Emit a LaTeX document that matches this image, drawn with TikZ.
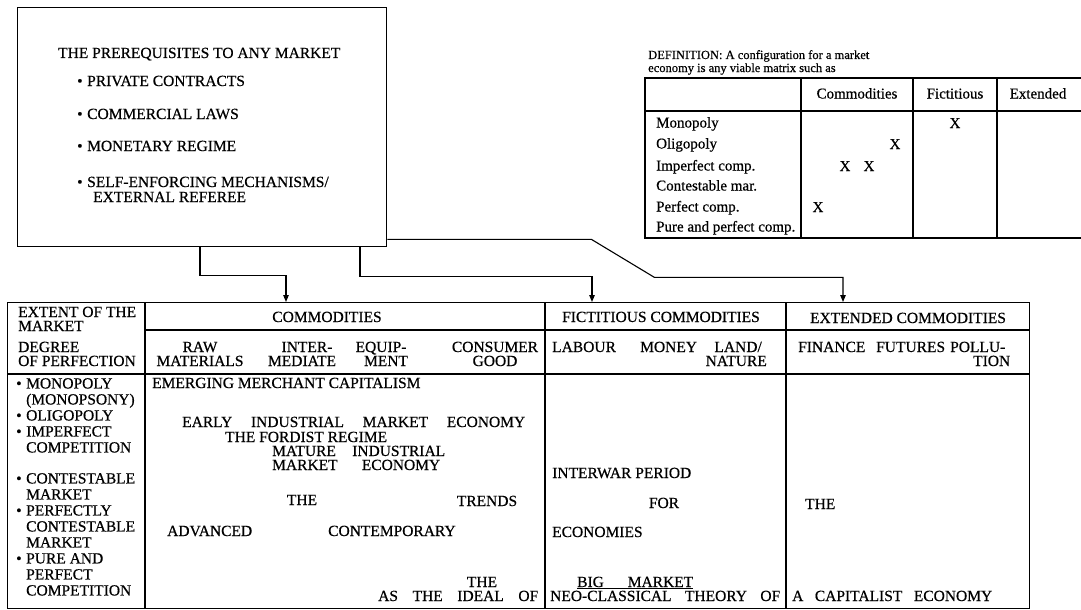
\documentclass[tikz,border=0pt]{standalone}
\usepackage{fontspec}
\setmainfont{Liberation Serif}[FakeBold=0.5]
\usetikzlibrary{arrows.meta}

\begin{document}
\begin{tikzpicture}[x=1pt,y=-1pt,
  frame/.style={draw,line width=1.3pt,inner sep=0pt},
  rule/.style={line width=1.2pt},
  wire/.style={line width=1.1pt},
  feed/.style={wire,-{Triangle[length=7pt,width=5.5pt]}},
  t/.style={inner sep=0pt,font=\fontsize{15.5}{16}\selectfont},
  tb/.style={t,anchor=base},
  tbw/.style={t,anchor=base west},
  tbe/.style={t,anchor=base east},
  sm/.style={inner sep=0pt,font=\fontsize{15}{16}\selectfont},
  def/.style={inner sep=0pt,anchor=base west,font=\fontsize{12.5}{13}\selectfont}
]
\fill[white] (0,0) rectangle (1081,610);
\useasboundingbox (0,0) rectangle (1081,610);

% ---------- prerequisites box ----------
\node[frame,anchor=north west,minimum width=369pt,minimum height=239pt] (prereq) at (17,7) {};
\node[tbw] (ptitle) at (58,58) {THE PREREQUISITES TO ANY MARKET};
\node[tbw] (p1) at (77,86)  {\makebox[10pt][l]{•}PRIVATE CONTRACTS};
\node[tbw] (p2) at (77,119) {\makebox[10pt][l]{•}COMMERCIAL LAWS};
\node[tbw] (p3) at (77,151) {\makebox[10pt][l]{•}MONETARY REGIME};
\node[tbw] (p4) at (77,187) {\makebox[10pt][l]{•}SELF-ENFORCING MECHANISMS/};
\node[tbw] (p4b) at (93,202) {EXTERNAL REFEREE};

% ---------- definition and configuration matrix ----------
\node[def] (def1) at (648,59) {DEFINITION: A configuration for a market};
\node[def] (def2) at (648,72) {economy is any viable matrix such as};

\draw[rule] (1081,78) -- (645,78) -- (645,238) -- (1081,238);
\draw[rule] (645,111) -- (1081,111);
\draw[rule] (801,78) -- (801,238);
\draw[rule] (913,78) -- (913,238);
\draw[rule] (997,78) -- (997,238);

\node[sm,anchor=base] (mc) at (857,98.5) {Commodities};
\node[sm,anchor=base] (mf) at (955,98.5) {Fictitious};
\node[sm,anchor=base] (me) at (1038,98.5) {Extended};

\node[sm,anchor=base west] (r1) at (656,127.5) {Monopoly};
\node[sm,anchor=base west] (r2) at (656,148.5) {Oligopoly};
\node[sm,anchor=base west] (r3) at (656,170.5) {Imperfect comp.};
\node[sm,anchor=base west] (r4) at (656,190.5) {Contestable mar.};
\node[sm,anchor=base west] (r5) at (656,211.5) {Perfect comp.};
\node[sm,anchor=base west] (r6) at (656,231.5) {Pure and perfect comp.};

\node[sm,anchor=base] (x1) at (955,128) {X};
\node[sm,anchor=base] (x2) at (895,149) {X};
\node[sm,anchor=base] (x3) at (845,171) {X};
\node[sm,anchor=base] (x4) at (869,171) {X};
\node[sm,anchor=base] (x5) at (818,212) {X};

% ---------- main table ----------
\node[frame,anchor=north west,minimum width=1022pt,minimum height=306pt] (tab) at (7,302) {};
\draw[rule] (145,302) -- (145,608);
\draw[rule] (545,302) -- (545,608);
\draw[rule] (786,302) -- (786,608);
\draw[rule] (145,330) -- (1029,330);
\draw[rule] (7,374) -- (1029,374);

% connectors from the prerequisites to the three kinds of commodities
\draw[feed] ([xshift=183pt]prereq.south west) -- ++(0,28) -| ([xshift=279pt]tab.north west);
\draw[feed] ([xshift=343pt]prereq.south west) -- ++(0,29) -| ([xshift=585pt]tab.north west);
\draw[feed] ([yshift=8pt]prereq.south east) -- ++(204,0) -- ++(63,38) -| ([xshift=836pt]tab.north west);

% first column
\node[tbw] (h1) at (18,317) {EXTENT OF THE};
\node[tbw] (h2) at (18,331) {MARKET};
\node[tbw] (h3) at (18,352) {DEGREE};
\node[tbw] (h4) at (18,366) {OF PERFECTION};
\node[t,anchor=north west,align=left] (deg) at (16,378)
  {\makebox[10pt][l]{•}MONOPOLY\\
   \hspace*{10pt}(MONOPSONY)\\
   \makebox[10pt][l]{•}OLIGOPOLY\\
   \makebox[10pt][l]{•}IMPERFECT\\
   \hspace*{10pt}COMPETITION\\[15pt]
   \makebox[10pt][l]{•}CONTESTABLE\\
   \hspace*{10pt}MARKET\\
   \makebox[10pt][l]{•}PERFECTLY\\
   \hspace*{10pt}CONTESTABLE\\
   \hspace*{10pt}MARKET\\
   \makebox[10pt][l]{•}PURE AND\\
   \hspace*{10pt}PERFECT\\
   \hspace*{10pt}COMPETITION};

% column headings
\node[tb] (hc) at (327,322) {COMMODITIES};
\node[tb] (hf) at (661,322) {FICTITIOUS COMMODITIES};
\node[tb] (he) at (908,323) {EXTENDED COMMODITIES};

\node[tb] (raw1) at (200,352) {RAW};
\node[tb] (raw2) at (200,366) {MATERIALS};
\node[tb] (int1) at (307,352) {INTER-};
\node[tb] (int2) at (302,366) {MEDIATE};
\node[tb] (eq1) at (381,352) {EQUIP-};
\node[tb] (eq2) at (386,366) {MENT};
\node[tb] (con1) at (495,352) {CONSUMER};
\node[tb] (con2) at (495,366) {GOOD};

\node[tbw] (lab) at (552,352) {LABOUR};
\node[tbw] (mon) at (640,352) {MONEY};
\node[tbe] (land1) at (762,352) {LAND/};
\node[tbe] (land2) at (767,366) {NATURE};

\node[tbw] (fin) at (798,352) {FINANCE};
\node[tbw] (fut) at (876,352) {FUTURES};
\node[tbw] (pol1) at (950,352) {POLLU-};
\node[tbw] (pol2) at (973,366) {TION};

% commodities column
\node[tbw] (e1) at (152,388) {EMERGING MERCHANT CAPITALISM};
\node[tbw] (e2) at (182,427) {\makebox[343pt][s]{EARLY INDUSTRIAL MARKET ECONOMY}};
\node[tbw] (e3) at (225,442) {THE FORDIST REGIME};
\node[tbw] (e4) at (272,456) {\makebox[173pt][s]{MATURE INDUSTRIAL}};
\node[tbw] (e5) at (272,470) {\makebox[168pt][s]{MARKET ECONOMY}};
\node[tb] (e6) at (302,505) {THE};
\node[tb] (e7) at (487,506) {TRENDS};
\node[tbw] (e8) at (167,536) {ADVANCED};
\node[tbw] (e9) at (328,536) {CONTEMPORARY};
\node[tb] (e10) at (482,587) {THE};
\node[tbw] (e11) at (378,601) {\makebox[160pt][s]{AS THE IDEAL OF}};

% fictitious commodities column
\node[tbw] (f1) at (552,478) {INTERWAR PERIOD};
\node[tb] (f2) at (664,508) {FOR};
\node[tbw] (f3) at (552,537) {ECONOMIES};
\node[tbw] (f4) at (577,587) {\underline{\makebox[116pt][s]{BIG MARKET}}};
\node[tbw] (f5) at (550,601) {\makebox[230pt][s]{NEO-CLASSICAL THEORY OF}};

% extended commodities column
\node[tbw] (x6) at (805,509) {THE};
\node[tbw] (x7) at (792,601) {\makebox[200pt][s]{A CAPITALIST ECONOMY}};
\end{tikzpicture}
\end{document}
